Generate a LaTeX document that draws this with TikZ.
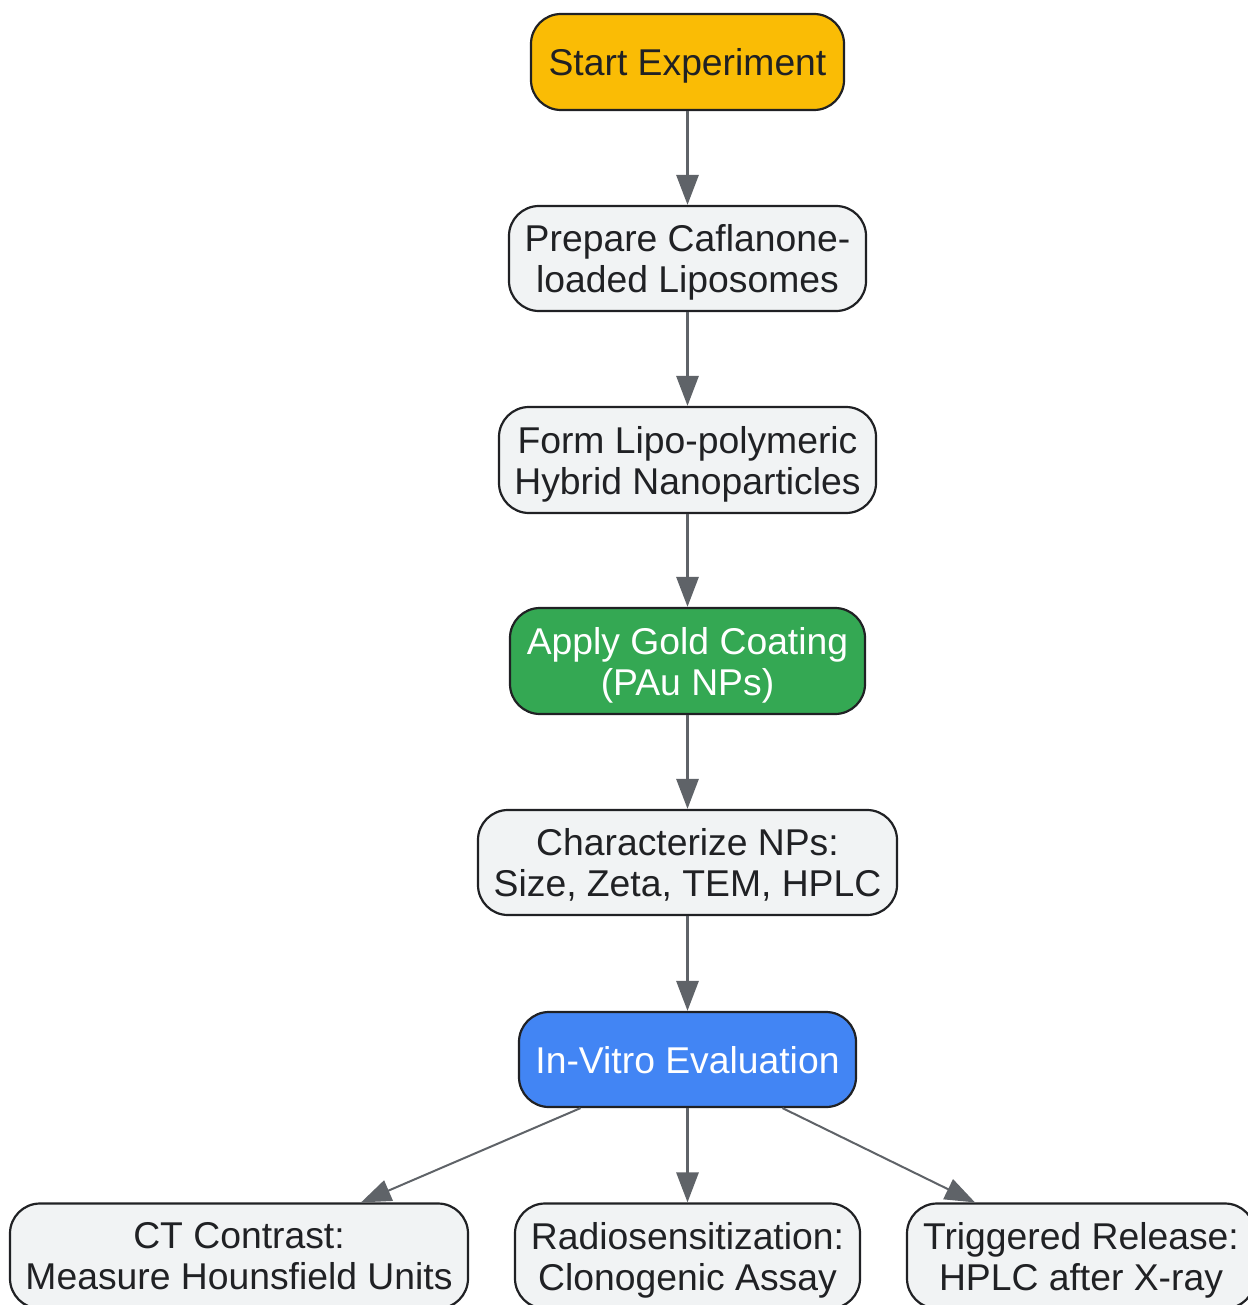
\documentclass[tikz,border=0pt]{standalone}
\usepackage{fontspec}
\setmainfont{Liberation Sans}
\usetikzlibrary{arrows.meta,calc}
\definecolor{cyel}{HTML}{FABC05}
\definecolor{cgrn}{HTML}{34A853}
\definecolor{cblu}{HTML}{4285F4}
\definecolor{cgry}{HTML}{F1F3F4}
\definecolor{cbrd}{HTML}{202124}
\definecolor{carr}{HTML}{5F6368}
\begin{document}
\begin{tikzpicture}[x=1pt,y=-1pt,
  box/.style={draw=cbrd,line width=2.2pt,rounded corners=30pt,fill=cgry,text=cbrd,
    align=center,inner sep=0pt,text depth=0pt,font=\fontsize{37.3}{41}\selectfont},
  arr/.style={draw=carr,line width=3pt,-{Triangle[length=30pt,width=22pt]}},
  darr/.style={draw=carr,line width=2pt,-{Triangle[length=30pt,width=22pt]}}]
\useasboundingbox (0,0) rectangle (1247,1305);
\node[box,fill=cyel,minimum width=313pt,minimum height=96pt] (s) at (687.5,62) {Start Experiment};
\node[box,minimum width=357pt,minimum height=105pt] (p) at (687.5,258.5) {Prepare Caflanone-\\loaded Liposomes};
\node[box,minimum width=377pt,minimum height=106pt] (f) at (687.5,460) {Form Lipo-polymeric\\Hybrid Nanoparticles};
\node[box,fill=cgrn,text=white,minimum width=355pt,minimum height=106pt] (g) at (687.5,661) {Apply Gold Coating\\(PAu NPs)};
\node[box,minimum width=419pt,minimum height=105pt] (c) at (687.5,862.5) {Characterize NPs:\\Size, Zeta, TEM, HPLC};
\node[box,fill=cblu,text=white,minimum width=337pt,minimum height=95pt] (iv) at (687.5,1059.5) {In-Vitro Evaluation};
\node[box,minimum width=458pt,minimum height=105pt] (ct) at (239,1256) {CT Contrast:\\Measure Hounsfield Units};
\node[box,minimum width=345pt,minimum height=105pt] (rs) at (687.5,1256) {Radiosensitization:\\Clonogenic Assay};
\node[box,minimum width=348pt,minimum height=105pt] (tr) at (1081,1256) {Triggered Release:\\HPLC after X-ray};
\draw[arr] (s) -- (p);
\draw[arr] (p) -- (f);
\draw[arr] (f) -- (g);
\draw[arr] (g) -- (c);
\draw[arr] (c) -- (iv);
\draw[arr] (iv) -- (rs);
\draw[darr] ($(iv.south)+(-107,0)$) -- ($(ct.north)+(122,0)$);
\draw[darr] ($(iv.south)+(95,0)$) -- ($(tr.north)+(-106,0)$);
\end{tikzpicture}
\end{document}
